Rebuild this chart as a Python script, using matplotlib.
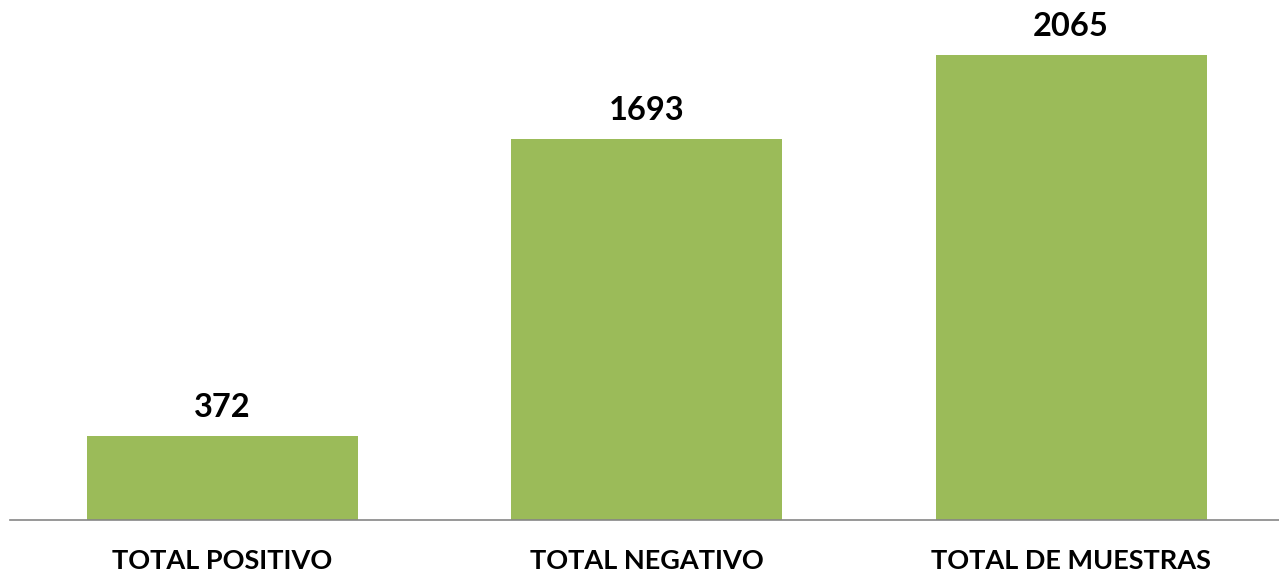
import matplotlib.pyplot as plt

# datos del gráfico
categorias = ["TOTAL POSITIVO", "TOTAL NEGATIVO", "TOTAL DE MUESTRAS"]
valores = [372, 1693, 2065]

plt.rcParams['font.family'] = ['Lato', 'DejaVu Sans']

fig = plt.figure(figsize=(12.79, 5.78), dpi=100)
ax = fig.add_axes([10 / 1279, 58 / 578, 1 - 10 / 1279, 520 / 578])

x = range(len(categorias))
barras = ax.bar(x, valores, width=0.639, color='#9BBB59')

# etiquetas de valor encima de cada barra
for b, v in zip(barras, valores):
    ax.annotate(str(v), (b.get_x() + b.get_width() / 2, v),
                xytext=(0, 14), textcoords='offset pixels',
                ha='center', va='bottom', fontsize=23.5, fontweight='bold')

ax.set_xlim(-0.5006, 2.49)
ax.set_ylim(0, 2309)
ax.set_xticks(list(x))
ax.set_xticklabels(categorias, fontsize=19.5, fontweight='bold')
ax.tick_params(axis='x', length=0, pad=21)
ax.set_yticks([])

for lado in ['top', 'right', 'left']:
    ax.spines[lado].set_visible(False)
ax.spines['bottom'].set_color('#868686')
ax.spines['bottom'].set_linewidth(1.2)

fig.savefig('out.png', dpi=100)
